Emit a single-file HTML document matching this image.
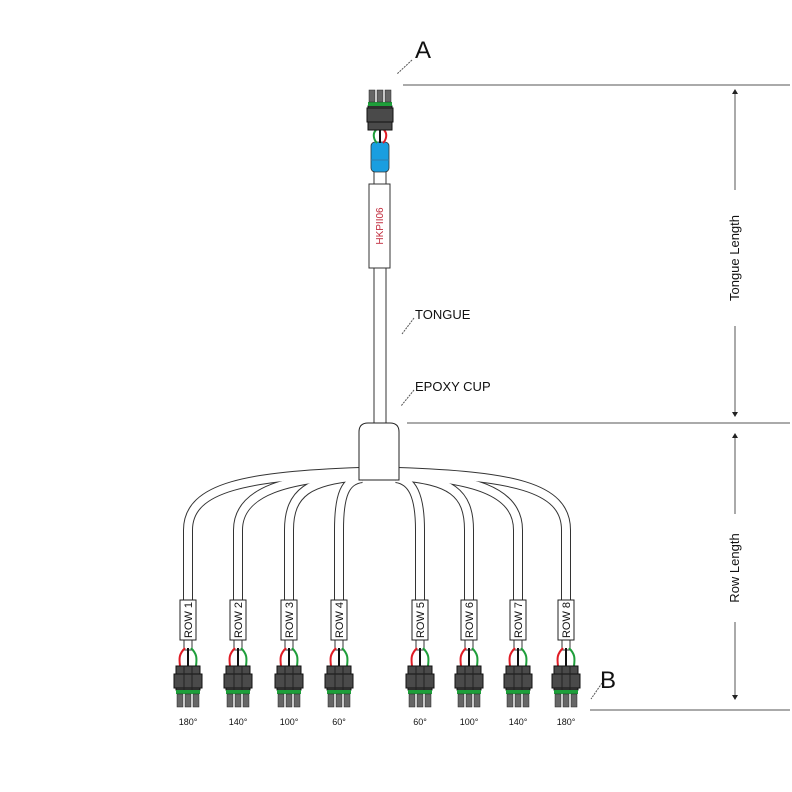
<!DOCTYPE html>
<html><head><style>body{margin:0;background:#fff}svg{display:block}</style></head><body>
<svg width="792" height="792" viewBox="0 0 792 792" xmlns="http://www.w3.org/2000/svg" font-family="Liberation Sans, sans-serif">
<defs>
<g id="con">
 <path d="M-3,-18 C-9,-12 -9,-8 -8,0" stroke="#e01b24" stroke-width="2" fill="none"/>
 <path d="M0,-18 L0,0" stroke="#111" stroke-width="2"/>
 <path d="M3,-18 C9,-12 9,-8 8,0" stroke="#1e9e3a" stroke-width="2" fill="none"/>
 <rect x="-12" y="0" width="24" height="24" fill="#4a4a4a" stroke="#111"/>
 <rect x="-14" y="8" width="28" height="14" fill="#4a4a4a" stroke="#111"/>
 <line x1="-4" y1="0" x2="-4" y2="24" stroke="#222"/><line x1="4" y1="0" x2="4" y2="24" stroke="#222"/>
 <rect x="-12" y="24" width="24" height="4" fill="#1e9e3a"/>
 <rect x="-11" y="28" width="6" height="13" fill="#666" stroke="#222" stroke-width=".5"/>
 <rect x="-3" y="28" width="6" height="13" fill="#666" stroke="#222" stroke-width=".5"/>
 <rect x="5" y="28" width="6" height="13" fill="#666" stroke="#222" stroke-width=".5"/>
</g>
<g id="cables">
<path d="M360,472 C250,476 188,486 188,530 L188,602"/>
<path d="M360,474 C290,478 238,490 238,530 L238,602"/>
<path d="M360,476 C310,480 289,492 289,530 L289,602"/>
<path d="M362,478 C345,480 339,495 339,530 L339,602"/>
<path d="M396,478 C412,480 420,495 420,530 L420,602"/>
<path d="M398,476 C450,480 469,492 469,530 L469,602"/>
<path d="M398,474 C470,478 518,490 518,530 L518,602"/>
<path d="M398,472 C510,476 566,486 566,530 L566,602"/>
</g>
</defs>
<!-- cables -->
<g fill="none">
<use href="#cables" stroke="#333" stroke-width="10"/>
<use href="#cables" stroke="#fff" stroke-width="8"/>
</g>
<!-- cable stubs below labels -->
<g fill="#fff" stroke="#333">
<rect x="184" y="638" width="8" height="12"/><rect x="234" y="638" width="8" height="12"/><rect x="285" y="638" width="8" height="12"/><rect x="335" y="638" width="8" height="12"/>
<rect x="416" y="638" width="8" height="12"/><rect x="465" y="638" width="8" height="12"/><rect x="514" y="638" width="8" height="12"/><rect x="562" y="638" width="8" height="12"/>
</g>
<!-- row labels -->
<g font-size="11" fill="#111">
<g transform="translate(188,620)"><rect x="-8" y="-20" width="16" height="40" fill="#fff" stroke="#222"/><text transform="rotate(-90)" text-anchor="middle" y="4">ROW 1</text></g>
<g transform="translate(238,620)"><rect x="-8" y="-20" width="16" height="40" fill="#fff" stroke="#222"/><text transform="rotate(-90)" text-anchor="middle" y="4">ROW 2</text></g>
<g transform="translate(289,620)"><rect x="-8" y="-20" width="16" height="40" fill="#fff" stroke="#222"/><text transform="rotate(-90)" text-anchor="middle" y="4">ROW 3</text></g>
<g transform="translate(339,620)"><rect x="-8" y="-20" width="16" height="40" fill="#fff" stroke="#222"/><text transform="rotate(-90)" text-anchor="middle" y="4">ROW 4</text></g>
<g transform="translate(420,620)"><rect x="-8" y="-20" width="16" height="40" fill="#fff" stroke="#222"/><text transform="rotate(-90)" text-anchor="middle" y="4">ROW 5</text></g>
<g transform="translate(469,620)"><rect x="-8" y="-20" width="16" height="40" fill="#fff" stroke="#222"/><text transform="rotate(-90)" text-anchor="middle" y="4">ROW 6</text></g>
<g transform="translate(518,620)"><rect x="-8" y="-20" width="16" height="40" fill="#fff" stroke="#222"/><text transform="rotate(-90)" text-anchor="middle" y="4">ROW 7</text></g>
<g transform="translate(566,620)"><rect x="-8" y="-20" width="16" height="40" fill="#fff" stroke="#222"/><text transform="rotate(-90)" text-anchor="middle" y="4">ROW 8</text></g>
</g>
<!-- connectors -->
<use href="#con" x="188" y="666"/><use href="#con" x="238" y="666"/><use href="#con" x="289" y="666"/><use href="#con" x="339" y="666"/>
<use href="#con" x="420" y="666"/><use href="#con" x="469" y="666"/><use href="#con" x="518" y="666"/><use href="#con" x="566" y="666"/>
<g font-size="9" text-anchor="middle" fill="#111">
<text x="188" y="725">180°</text><text x="238" y="725">140°</text><text x="289" y="725">100°</text><text x="339" y="725">60°</text>
<text x="420" y="725">60°</text><text x="469" y="725">100°</text><text x="518" y="725">140°</text><text x="566" y="725">180°</text>
</g>
<!-- tongue -->
<rect x="374" y="266" width="12" height="160" fill="#fff" stroke="#333"/>
<path d="M359,480 L359,432 Q359,423 368,423 L390,423 Q399,423 399,432 L399,480 Z" fill="#fff" stroke="#222"/>
<rect x="369" y="184" width="21" height="84" fill="#fff" stroke="#333"/>
<text transform="translate(383,226) rotate(-90)" text-anchor="middle" font-size="10" fill="#c0283a">HKPII06</text>
<rect x="374" y="170" width="12" height="14" fill="#fff" stroke="#333"/>
<rect x="371" y="142" width="18" height="30" rx="4" fill="#1a9ee0" stroke="#333" stroke-width=".8"/>
<line x1="371" y1="160" x2="389" y2="160" stroke="#2d7fb0"/>
<path d="M376,130 C372,134 374,140 377,143" stroke="#1e9e3a" stroke-width="2" fill="none"/>
<path d="M384,130 C388,134 386,140 383,143" stroke="#e01b24" stroke-width="2" fill="none"/>
<line x1="380" y1="130" x2="380" y2="143" stroke="#111" stroke-width="2"/>
<g transform="translate(380,130) scale(1,-1)">
 <rect x="-12" y="0" width="24" height="24" fill="#4a4a4a" stroke="#111"/>
 <rect x="-13" y="8" width="26" height="14" fill="#4a4a4a" stroke="#111"/>
 <rect x="-12" y="24" width="24" height="4" fill="#1e9e3a"/>
 <rect x="-11" y="28" width="6" height="12" fill="#666" stroke="#222" stroke-width=".5"/>
 <rect x="-3" y="28" width="6" height="12" fill="#666" stroke="#222" stroke-width=".5"/>
 <rect x="5" y="28" width="6" height="12" fill="#666" stroke="#222" stroke-width=".5"/>
</g>
<!-- dimension lines -->
<g stroke="#555" stroke-width="1">
<line x1="403" y1="85" x2="790" y2="85"/>
<line x1="407" y1="423" x2="790" y2="423"/>
<line x1="590" y1="710" x2="790" y2="710"/>
<line x1="735" y1="92" x2="735" y2="190"/><line x1="735" y1="326" x2="735" y2="414"/>
<line x1="735" y1="436" x2="735" y2="514"/><line x1="735" y1="622" x2="735" y2="697"/>
<line x1="412" y1="60" x2="397" y2="74" stroke-dasharray="2,1"/>
<line x1="414" y1="318" x2="402" y2="334" stroke-dasharray="2,1"/>
<line x1="414" y1="390" x2="401" y2="406" stroke-dasharray="2,1"/>
<line x1="602" y1="683" x2="591" y2="699" stroke-dasharray="2,1"/>
</g>
<g fill="#222">
<path d="M735,89 l-3,5 h6z"/><path d="M735,417 l-3,-5 h6z"/>
<path d="M735,433 l-3,5 h6z"/><path d="M735,700 l-3,-5 h6z"/>
</g>
<g fill="#111">
<text x="415" y="58" font-size="24">A</text>
<text x="600" y="688" font-size="24">B</text>
<text x="415" y="319" font-size="13">TONGUE</text>
<text x="415" y="391" font-size="13">EPOXY CUP</text>
<text transform="translate(739,258) rotate(-90)" text-anchor="middle" font-size="13">Tongue Length</text>
<text transform="translate(739,568) rotate(-90)" text-anchor="middle" font-size="13">Row Length</text>
</g>
</svg>
</body></html>
